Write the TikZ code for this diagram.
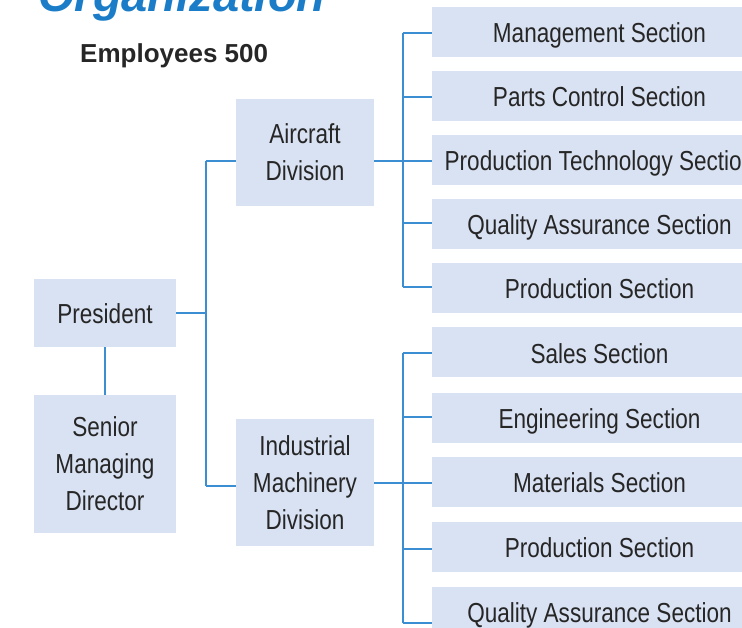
\documentclass[tikz,border=0pt]{standalone}
\usepackage{fontspec}
\setmainfont{Liberation Sans}
\newfontfamily\boxfont[FakeStretch=0.82]{Liberation Sans}
\definecolor{boxfill}{HTML}{D9E2F2}
\definecolor{linkblue}{HTML}{3C8ED3}
\definecolor{titleblue}{HTML}{1B7DC8}
\definecolor{txt}{HTML}{262626}
\tikzset{
  unitbox/.style={fill=boxfill, draw=none, inner sep=0pt, align=center, text=txt,
    font=\boxfont\fontsize{27.5}{37}\selectfont},
  onelinebox/.style={unitbox, text height=21pt, text depth=0pt},
  secbox/.style={onelinebox, minimum width=335pt, minimum height=50pt},
  link/.style={draw=linkblue, line width=1.2pt}
}
\begin{document}
\begin{tikzpicture}[x=1pt,y=-1pt]
\useasboundingbox (0,0) rectangle (742,628);
\clip (0,0) rectangle (742,628);
% titles
\node[anchor=base west, inner sep=0pt, text=titleblue, font=\fontsize{47}{50}\selectfont\bfseries\itshape] (title) at (38,12) {Organization};
\node[anchor=base west, inner sep=0pt, text=txt, font=\fontsize{26}{30}\selectfont\bfseries] (emp) at (80,63) {Employees 500};
% left column
\node[onelinebox, minimum width=142pt, minimum height=68pt] (pres) at (105,313) {President};
\node[unitbox, minimum width=142pt, minimum height=138pt] (smd) at (105,464) {Senior\\Managing\\Director};
% divisions
\node[unitbox, minimum width=138pt, minimum height=107pt] (air) at (305,152.5) {Aircraft\\Division};
\node[unitbox, minimum width=138pt, minimum height=127pt] (ind) at (305,482.5) {Industrial\\Machinery\\Division};
% sections
\node[secbox] (s1) at (599.5,32) {Management Section};
\node[secbox] (s2) at (599.5,96) {Parts Control Section};
\node[secbox] (s3) at (599.5,160) {Production Technology Section};
\node[secbox] (s4) at (599.5,224) {Quality Assurance Section};
\node[secbox] (s5) at (599.5,288.5) {Production Section};
\node[secbox] (t1) at (599.5,352.5) {Sales Section};
\node[secbox] (t2) at (599.5,418) {Engineering Section};
\node[secbox] (t3) at (599.5,482) {Materials Section};
\node[secbox] (t4) at (599.5,547) {Production Section};
\node[secbox] (t5) at (599.5,612) {Quality Assurance Section};
% bus coordinates
\coordinate (lbt) at (206,161);
\coordinate (lbb) at (206,486);
\coordinate (ubt) at (403,33);
\coordinate (ubb) at (403,287);
\coordinate (dbt) at (403,353);
\coordinate (dbb) at (403,623);
% left connectors
\draw[link] (pres.south) -- (smd.north);
\draw[link] (pres.east) -- (pres.east -| lbt);
\draw[link] (lbt) -- (lbb);
\draw[link] (lbt) -- (lbt -| air.west);
\draw[link] (lbb) -- (lbb -| ind.west);
% upper bus
\draw[link] (air.east |- 0,161) -- (403,161);
\draw[link] (ubt) -- (ubb);
\draw[link] (ubt) -- (ubt -| s1.west);
\draw[link] (403,97) -- (s2.west |- 0,97);
\draw[link] (403,161) -- (s3.west |- 0,161);
\draw[link] (403,223) -- (s4.west |- 0,223);
\draw[link] (ubb) -- (ubb -| s5.west);
% lower bus
\draw[link] (ind.east |- 0,483) -- (403,483);
\draw[link] (dbt) -- (dbb);
\draw[link] (dbt) -- (dbt -| t1.west);
\draw[link] (403,417) -- (t2.west |- 0,417);
\draw[link] (403,483) -- (t3.west |- 0,483);
\draw[link] (403,549) -- (t4.west |- 0,549);
\draw[link] (dbb) -- (dbb -| t5.west);
\end{tikzpicture}
\end{document}
